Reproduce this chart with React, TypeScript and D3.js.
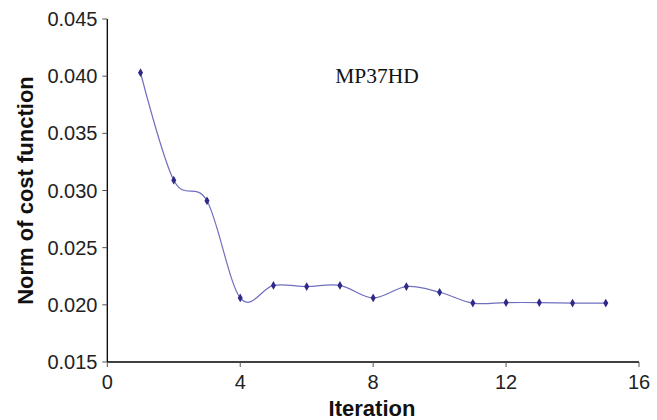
import { useEffect, useRef } from 'react'
import * as d3 from 'd3'

// Data
const iterations = [1, 2, 3, 4, 5, 6, 7, 8, 9, 10, 11, 12, 13, 14, 15]
const costNorm = [
  0.0403, 0.0309, 0.0291, 0.0206, 0.0217, 0.0216, 0.0217, 0.0206,
  0.0216, 0.0211, 0.02015, 0.0202, 0.0202, 0.02015, 0.02015,
]
const xTicks = [0, 4, 8, 12, 16]
const yTicks = [0.015, 0.02, 0.025, 0.03, 0.035, 0.04, 0.045]
const seriesLabel = 'MP37HD'

export default function App() {
  const svgRef = useRef<SVGSVGElement>(null)

  useEffect(() => {
    if (!svgRef.current) return
    const svg = d3.select(svgRef.current)
    svg.selectAll('*').remove()

    const width = 657
    const height = 420
    const left = 107.3
    const right = 639
    const top = 19
    const bottom = 362

    svg.attr('width', width).attr('height', height)

    const x = d3.scaleLinear().domain([0, 16]).range([left, right])
    const y = d3.scaleLinear().domain([0.015, 0.045]).range([bottom, top])

    const sans = "'Liberation Sans', Arial, Helvetica, sans-serif"

    // x axis
    const xAxis = svg.append('g')
    xAxis.append('line')
      .attr('x1', left).attr('x2', right)
      .attr('y1', bottom).attr('y2', bottom)
      .attr('stroke', '#000').attr('stroke-width', 1.3)
    xTicks.forEach(t => {
      xAxis.append('line')
        .attr('x1', x(t)).attr('x2', x(t))
        .attr('y1', bottom).attr('y2', bottom + 5)
        .attr('stroke', '#555').attr('stroke-width', 1)
      xAxis.append('text')
        .attr('x', x(t)).attr('y', 388.5)
        .attr('text-anchor', 'middle')
        .style('font-family', sans).style('font-size', '20px')
        .style('fill', '#222')
        .text(t)
    })

    // y axis
    const yAxis = svg.append('g')
    yAxis.append('line')
      .attr('x1', left).attr('x2', left)
      .attr('y1', top).attr('y2', bottom)
      .attr('stroke', '#000').attr('stroke-width', 1.3)
    yTicks.forEach(t => {
      yAxis.append('line')
        .attr('x1', left - 5).attr('x2', left)
        .attr('y1', y(t)).attr('y2', y(t))
        .attr('stroke', '#555').attr('stroke-width', 1)
      yAxis.append('text')
        .attr('x', 97.5).attr('y', y(t) + 7)
        .attr('text-anchor', 'end')
        .style('font-family', sans).style('font-size', '20px')
        .style('fill', '#222')
        .text(t.toFixed(3))
    })

    // axis titles
    svg.append('text')
      .attr('x', 372).attr('y', 416)
      .attr('text-anchor', 'middle')
      .style('font-family', sans).style('font-size', '22px')
      .style('font-weight', 'bold').style('fill', '#111')
      .text('Iteration')
    svg.append('text')
      .attr('transform', 'translate(33, 190.5) rotate(-90)')
      .attr('text-anchor', 'middle')
      .style('font-family', sans).style('font-size', '22px')
      .style('font-weight', 'bold').style('fill', '#111')
      .text('Norm of cost function')

    // smoothed line
    const pts = iterations.map((it, i) => [it, costNorm[i]] as [number, number])
    const line = d3.line<[number, number]>()
      .x(d => x(d[0]))
      .y(d => y(d[1]))
      .curve(d3.curveCardinal.tension(0))
    svg.append('path')
      .datum(pts)
      .attr('d', line)
      .attr('fill', 'none')
      .attr('stroke', '#6f6fbf')
      .attr('stroke-width', 1.2)

    // markers
    const sym = d3.symbol().type(d3.symbolDiamond).size(22)
    svg.append('g')
      .selectAll('path')
      .data(pts)
      .join('path')
      .attr('d', sym)
      .attr('transform', d => `translate(${x(d[0])},${y(d[1])})`)
      .attr('fill', '#2e2a88')

    // series label
    svg.append('text')
      .attr('x', 377).attr('y', 83)
      .attr('text-anchor', 'middle')
      .style('font-family', "'Liberation Serif', 'Times New Roman', serif")
      .style('font-size', '21.5px')
      .style('fill', '#111')
      .text(seriesLabel)
  }, [])

  return <svg ref={svgRef} style={{ position: 'absolute', left: 0, top: 0 }}></svg>
}
